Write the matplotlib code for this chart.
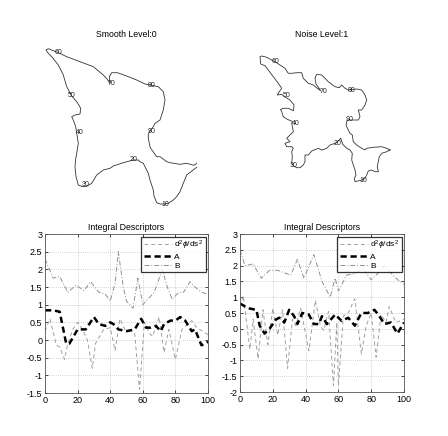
import numpy as np
import matplotlib.pyplot as plt

plt.rcParams['font.family'] = ['Liberation Sans', 'DejaVu Sans']
plt.rcParams['axes.unicode_minus'] = False
plt.rcParams['mathtext.fontset'] = 'custom'
plt.rcParams['mathtext.rm'] = 'Liberation Sans'
plt.rcParams['mathtext.it'] = 'Liberation Sans:italic'

# contour (image units, y pointing down)
smooth_x = [196.7, 186.7, 183.3, 180, 176.7, 173.3, 168.3, 165, 160, 156.7, 154, 153.3, 150, 148.3, 145,
            143.3, 140, 138.3, 133.3, 123.3, 113.3, 110, 103.3, 96.7, 91.7, 86, 82, 78.3, 76, 75, 75.5,
            76.7, 78.3, 77.5, 76.7, 75.7, 73.3, 71.7, 75, 80, 80.7, 78.5, 76.7, 71.7, 66.7, 63.3, 58.3,
            51.7, 48.3, 46, 48.3, 53.3, 57.7, 66.7, 80, 93.3, 103.3, 107, 110, 109.3, 111.7, 117.3, 126.7,
            136.7, 145, 151.7, 158.3, 163.3, 165, 163.3, 160, 155, 153.3, 149.3, 148.3, 148.3, 150, 150.7,
            156.7, 160, 166.7, 170, 180, 186.7, 194, 196.7]
smooth_y = [167.3, 175, 183.3, 191.7, 196.7, 200, 203.3, 204, 204, 202.7, 196, 190, 180, 173.3, 166.7,
            163.3, 161.7, 160, 160, 162.7, 166, 168.3, 170, 175, 183.3, 186.7, 186.5, 185, 176.7, 166.7, 160,
            153.3, 143.3, 138, 133.3, 126.7, 120, 116.7, 115, 114, 108.3, 104.5, 101.7, 96, 86.7, 75, 65,
            56.7, 53.3, 50, 48.7, 50.7, 52.3, 56.7, 61.7, 66.7, 75, 79, 83.3, 76.7, 72.7, 72.7, 76, 80, 84,
            85.3, 86.7, 91.7, 100, 110, 120, 123.3, 126.7, 131.7, 135, 138.3, 146.7, 148.3, 156.7, 156.7,
            161.7, 162.7, 164.3, 163.3, 165.3, 163.3]
smooth_lbl = ['10', '20', '30', '40', '50', '60', '70', '80', '90']
smooth_lx = [165.5, 133.5, 85.5, 79.5, 72, 58, 111.5, 152, 152]
smooth_ly = [204.5, 160, 184.5, 132.5, 96, 52.5, 83.5, 86, 131.7]

noise_x = [390, 386.7, 381.7, 379.3, 378.3, 377.3, 378.3, 375, 371.7, 368.3, 366.7, 365, 361.7, 355, 354.3,
           356, 355, 353.3, 351.7, 352.3, 350, 346.7, 342.7, 340.7, 338.3, 335, 330, 326.7, 321.7, 318.3,
           311.7, 308.3, 305, 305, 303.3, 300, 296.7, 293.3, 291.7, 292.3, 291.7, 293.3, 291.7, 286.7, 285,
           290, 286.7, 290, 293.3, 292.7, 291.7, 292.5, 287.3, 283.3, 281.7, 280.5, 283.3, 288.3, 293.5, 294,
           290, 285, 281.7, 277.3, 279.3, 281.7, 278.3, 273.3, 268.3, 265, 260.7, 260, 261.7, 266.7, 271.7,
           275, 280, 285, 288.3, 291.7, 296.7, 301.7, 303.3, 308.3, 313.3, 317.3, 320.7, 316, 315, 316.7,
           321.7, 325, 328.3, 331.7, 335, 339.3, 341.7, 345, 348.3, 352, 356.7, 361.7, 365, 366.7, 365,
           361.7, 358.3, 360, 358.3, 351.7, 347.3, 346, 348.3, 350, 352.3, 353.3, 356.7, 361.7, 365, 366.7,
           373.3, 381.7, 386.7, 390]
noise_y = [150, 151.7, 153.3, 156.7, 161.7, 166.7, 171.7, 171.7, 170, 171, 175, 178.3, 180, 181.7, 178.3,
           175, 170, 165, 160, 153.3, 150, 148.3, 144.3, 138.3, 141, 143.3, 145, 148.3, 150, 148.3,
           151, 155, 155, 161.7, 165, 167.7, 167.7, 165.7, 163.3, 156.7, 151.7, 148.3, 146.7, 146.7, 143.3,
           141.7, 138.3, 135, 131.7, 128.3, 123.3, 121.5, 119.3, 116.7, 111.7, 109.5, 108.3, 108.3, 110.7, 105,
           100, 97, 94.3, 95, 91.7, 88.3, 83.3, 76.7, 70, 65.7, 64, 56.7, 56, 57.3, 60,
           61.7, 65, 68.3, 73.3, 73.3, 72.7, 72.7, 78.3, 83.3, 85, 88.3, 90.7, 84, 78, 74.3,
           75, 78.3, 81.7, 84.3, 86.7, 87.7, 85, 88.3, 90, 89.5, 89, 90, 95, 100, 105,
           110, 110, 116.7, 120, 120, 120, 125, 130, 133.3, 135, 141.7, 145, 148.3, 150, 148.3,
           147.3, 146.7, 148.3, 150]
noise_lbl = ['10', '20', '30', '40', '50', '60', '70', '80', '90']
noise_lx = [363.5, 337.5, 294, 295.5, 286.5, 275.5, 323.5, 352, 350]
noise_ly = [180.5, 143.5, 165.5, 123.5, 96, 62, 91.5, 90.5, 119.5]

# integral descriptors, read at the vertices of the curves
x_l = [0, 3, 7, 9, 12, 14, 17, 20, 23, 26, 29, 31, 36, 40, 43, 46, 49, 53, 55, 58, 61, 64, 66, 70, 73, 76,
       80, 84, 90, 93, 100]
d2_l = [0.25, 0.6, -0.15, -0.2, -0.55, -0.1, 0.3, 0.5, 0.3, 0.0, -0.8, -0.1, 0.3, 0.35, -0.3, 0.6, 0.3,
        0.25, 0.2, -1.4, 0.5, 0.2, 0.1, 0.65, -0.35, 0.3, -0.55, 0.3, 0.55, 0.35, 0.15]
xa_l = [0, 5, 9, 13, 15, 20, 25, 30, 33, 37, 40, 42, 45, 50, 55, 59, 62, 65, 68, 71, 73, 77, 80, 83, 86, 90,
        92, 96, 100]
a_l = [0.84, 0.84, 0.8, -0.1, -0.1, 0.3, 0.3, 0.65, 0.45, 0.4, 0.5, 0.45, 0.3, 0.25, 0.3, 0.6, 0.35, 0.35,
       0.4, 0.25, 0.45, 0.55, 0.55, 0.65, 0.55, 0.25, 0.3, -0.15, -0.05]
xb_l = [0, 5, 9, 14, 19, 24, 28, 33, 37, 40, 43, 45, 48, 50, 54, 57, 60, 63, 67, 72, 75, 78, 82, 85, 89, 92,
        96, 100]
b_l = [2.3, 1.75, 1.8, 1.35, 1.55, 1.4, 1.65, 1.35, 1.3, 1.1, 1.6, 2.5, 1.5, 1.1, 0.9, 1.75, 1.0, 1.15,
       1.35, 2.0, 1.5, 1.15, 1.35, 1.35, 1.65, 1.5, 1.35, 1.3]

x_r = [0, 2, 6, 8, 11, 14, 17, 20, 23, 26, 29, 32, 34, 37, 42, 46, 49, 51, 54, 57, 59, 60, 63, 66, 70, 74,
       77, 80, 83, 86, 89, 91, 95, 100]
d2_r = [0.7, 1.05, -0.65, 0.3, -0.95, 0.6, -0.5, 0.65, -0.2, 0.6, -1.25, 0.3, 0.1, 0.65, -0.7, 0.9, 0.1,
        -0.05, 0.55, -1.8, 0.2, -1.8, 0.4, 0.5, 0.95, -0.8, 0.1, 0.5, -0.9, 0.45, 0.2, 0.7, 0.2, 0.3]
xa_r = [0, 5, 10, 12, 15, 18, 22, 24, 27, 30, 33, 35, 38, 42, 45, 48, 50, 53, 58, 62, 66, 70, 74, 78, 82,
        85, 88, 92, 96, 100]
a_r = [0.8, 0.65, 0.6, 0.1, -0.15, 0.0, 0.3, 0.35, 0.2, 0.6, 0.4, 0.15, 0.5, 0.45, 0.15, 0.15, 0.4, 0.15,
       0.45, 0.25, 0.35, 0.1, 0.5, 0.5, 0.6, 0.4, 0.15, 0.2, -0.15, 0.2]
xb_r = [0, 3, 8, 13, 18, 23, 28, 31, 35, 39, 45, 50, 55, 58, 60, 65, 70, 75, 80, 85, 88, 95, 100]
b_r = [2.5, 2.0, 2.05, 1.6, 1.85, 1.85, 1.75, 1.7, 2.2, 1.6, 2.35, 1.5, 1.0, 1.6, 1.2, 1.7, 1.75, 1.9,
       1.55, 1.8, 2.0, 1.6, 1.4]

W, H = 448, 436
fig = plt.figure(figsize=(W / 100, H / 100), dpi=100)


def box(x0, y0, x1, y1):
    return [x0 / W, 1 - y1 / H, (x1 - x0) / W, (y1 - y0) / H]


def shape(pos, xs, ys, lbl, lx, ly, title):
    ax = fig.add_axes(box(*pos))
    ax.plot(xs, ys, color='#333333', lw=0.6)
    for t, a, b in zip(lbl, lx, ly):
        ax.text(a, b, t, fontsize=5, ha='center', va='center', color='#222222')
    ax.set_xlim(pos[0], pos[2])
    ax.set_ylim(pos[3], pos[1])
    ax.axis('off')
    ax.set_title(title, fontsize=6.3, pad=2)


shape((45, 40, 208, 215), smooth_x, smooth_y, smooth_lbl, smooth_lx, smooth_ly, 'Smooth Level:0')
shape((240, 40, 404, 215), noise_x, noise_y, noise_lbl, noise_lx, noise_ly, 'Noise Level:1')


def descr(pos, xd, d2, xa, a, xb, b, ylo, yticks):
    ax = fig.add_axes(box(*pos))
    ax.plot(xd, d2, color='#a0a0a0', lw=0.7, dashes=(4, 3), label=r'd$^2\phi$/ds$^2$')
    ax.plot(xa, a, color='black', lw=1.8, dashes=(2.5, 1.5), label='A')
    ax.plot(xb, b, color='#909090', lw=0.7, dashes=(5, 2, 1, 2), label='B')
    ax.set_xlim(0, 100)
    ax.set_ylim(ylo, 3)
    ax.set_xticks([0, 20, 40, 60, 80, 100])
    ax.set_yticks(yticks)
    ax.set_yticklabels([('%g' % v) for v in yticks])
    ax.grid(True, linestyle=(0, (1, 2)), color='#aaaaaa', lw=0.5)
    ax.tick_params(direction='in', length=2.5, width=0.5, labelsize=6.5, top=True, right=True, pad=2)
    for s in ax.spines.values():
        s.set_linewidth(0.6)
        s.set_color('#555555')
    ax.set_title('Integral Descriptors', fontsize=6.3, pad=3)
    leg = ax.legend(loc='upper right', fontsize=6, handlelength=3.4, borderpad=0.25,
                    labelspacing=0.15, handletextpad=0.3, fancybox=False, borderaxespad=0.3)
    leg.get_frame().set_edgecolor('black')
    leg.get_frame().set_linewidth(0.9)
    return ax


descr((45, 234, 208, 393), x_l, d2_l, xa_l, a_l, xb_l, b_l, -1.5,
      [-1.5, -1, -0.5, 0, 0.5, 1, 1.5, 2, 2.5, 3])
descr((240, 234, 404, 392), x_r, d2_r, xa_r, a_r, xb_r, b_r, -2,
      [-2, -1.5, -1, -0.5, 0, 0.5, 1, 1.5, 2, 2.5, 3])

fig.savefig('out.png', dpi=100)
